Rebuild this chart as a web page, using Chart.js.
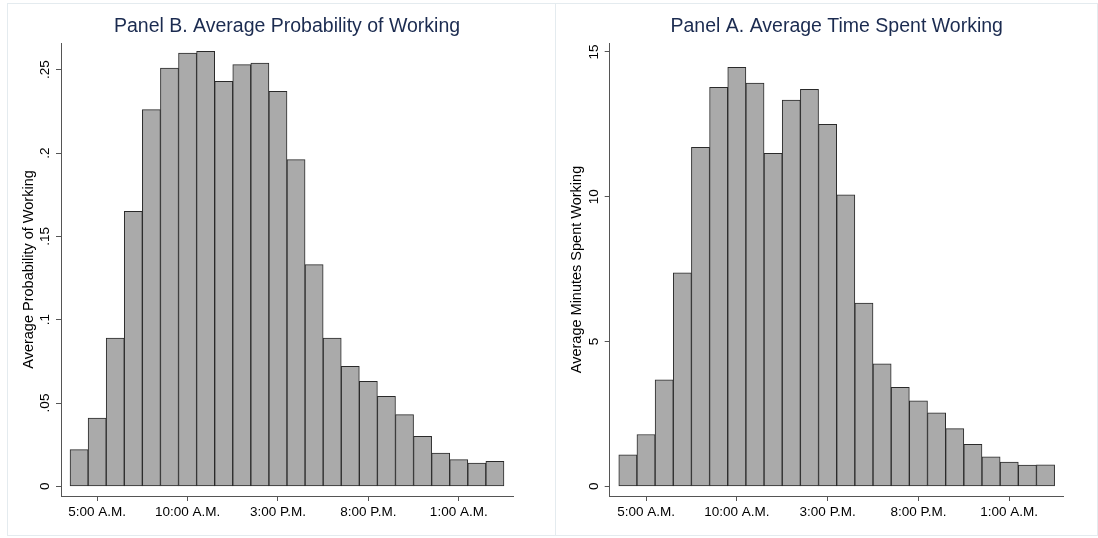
<!DOCTYPE html>
<html>
<head>
<meta charset="utf-8">
<script src="https://cdn.jsdelivr.net/npm/chart.js@4/dist/chart.umd.min.js"></script>
<style>
  body { margin: 0; background: #fff; width: 1098px; height: 538px; position: relative; overflow: hidden; }
  .panel { position: absolute; top: 3px; height: 533px; border: 1px solid #e4ebef; box-sizing: border-box; }
  canvas { position: absolute; }
</style>
</head>
<body>
<div class="panel" style="left:7px; width:549px;"></div>
<div class="panel" style="left:555px; width:543px;"></div>
<canvas id="panelB" width="546" height="532" style="left:8px; top:4px;"></canvas>
<canvas id="panelA" width="541" height="532" style="left:556px; top:4px;"></canvas>
<script>
// hour of day, starting at 4 A.M.
const hours = ['4:00 A.M.', '5:00 A.M.', '6:00 A.M.', '7:00 A.M.', '8:00 A.M.', '9:00 A.M.',
  '10:00 A.M.', '11:00 A.M.', '12:00 P.M.', '1:00 P.M.', '2:00 P.M.', '3:00 P.M.',
  '4:00 P.M.', '5:00 P.M.', '6:00 P.M.', '7:00 P.M.', '8:00 P.M.', '9:00 P.M.',
  '10:00 P.M.', '11:00 P.M.', '12:00 A.M.', '1:00 A.M.', '2:00 A.M.', '3:00 A.M.'];
const xTickLabels = ['5:00 A.M.', '10:00 A.M.', '3:00 P.M.', '8:00 P.M.', '1:00 A.M.'];

const probWorking = [0.022, 0.041, 0.089, 0.165, 0.226, 0.251, 0.260, 0.261, 0.243, 0.253, 0.254, 0.237,
  0.196, 0.133, 0.089, 0.072, 0.063, 0.054, 0.043, 0.030, 0.020, 0.016, 0.014, 0.015];
const minutesWorking = [1.09, 1.79, 3.68, 7.37, 11.71, 13.78, 14.47, 13.93, 11.50, 13.34, 13.71, 12.50,
  10.07, 6.33, 4.23, 3.42, 2.95, 2.54, 1.99, 1.45, 1.02, 0.84, 0.73, 0.74];

const probTicks = [0, 0.05, 0.1, 0.15, 0.2, 0.25];
const probTickLabels = ['0', '.05', '.1', '.15', '.2', '.25'];
const minutesTicks = [0, 5, 10, 15];
const minutesTickLabels = ['0', '5', '10', '15'];

const FONT = "'Liberation Sans', Arial, sans-serif";
const AXIS = '#555555';

function makePanel(id, title, yTitle, values, yTicks, yTickLabels, yMin, yMax, padRight, yWidth, yLabelPad) {
  const xTicks = xTickLabels.map(l => hours.indexOf(l));
  new Chart(document.getElementById(id), {
    type: 'bar',
    data: {
      datasets: [{
        data: values.map((v, i) => ({ x: i, y: v })),
        backgroundColor: '#aaaaaa',
        borderColor: '#2a2a2a',
        borderWidth: 1,
        borderSkipped: false,
        categoryPercentage: 1,
        barPercentage: 1
      }]
    },
    options: {
      responsive: false,
      animation: false,
      layout: { padding: { left: 0, right: padRight, top: 0, bottom: 0 } },
      plugins: {
        legend: { display: false },
        tooltip: { enabled: false },
        title: {
          display: true,
          text: title,
          fullSize: false,
          color: '#1b2b50',
          font: { family: FONT, size: 19.5, weight: 'normal' },
          padding: { top: 11, bottom: 4.6 }
        }
      },
      scales: {
        x: {
          type: 'linear',
          offset: false,
          min: -1,
          max: 24,
          afterBuildTicks: s => { s.ticks = xTicks.map(v => ({ value: v })); },
          afterFit: s => { s.height = 40; },
          ticks: {
            autoSkip: false,
            maxRotation: 0,
            padding: 3,
            color: '#000',
            font: { family: FONT, size: 13.5 },
            callback: (v, i) => xTickLabels[i]
          },
          grid: { offset: false, drawOnChartArea: false, drawTicks: true, tickLength: 5, color: AXIS },
          border: { display: true, color: AXIS, width: 1 }
        },
        y: {
          min: yMin,
          max: yMax,
          afterBuildTicks: s => { s.ticks = yTicks.map(v => ({ value: v })); },
          afterFit: s => { s.width = yWidth; },
          ticks: {
            minRotation: 90,
            maxRotation: 90,
            crossAlign: 'center',
            padding: yLabelPad,
            color: '#000',
            font: { family: FONT, size: 13.5 },
            callback: (v, i) => yTickLabels[i]
          },
          grid: { drawOnChartArea: false, drawTicks: true, tickLength: 5, color: AXIS },
          border: { display: true, color: AXIS, width: 1 },
          title: {
            display: true,
            text: yTitle,
            color: '#000',
            font: { family: FONT, size: 14.5 },
            padding: { top: 11.8, bottom: 0 }
          }
        }
      }
    }
  });
}

makePanel('panelB', 'Panel B. Average Probability of Working', 'Average Probability of Working',
  probWorking, probTicks, probTickLabels, -0.0058, 0.266, 41, 53, 1.5);
makePanel('panelA', 'Panel A. Average Time Spent Working', 'Average Minutes Spent Working',
  minutesWorking, minutesTicks, minutesTickLabels, -0.335, 15.31, 33.3, 53.7, 3.2);
</script>
</body>
</html>
